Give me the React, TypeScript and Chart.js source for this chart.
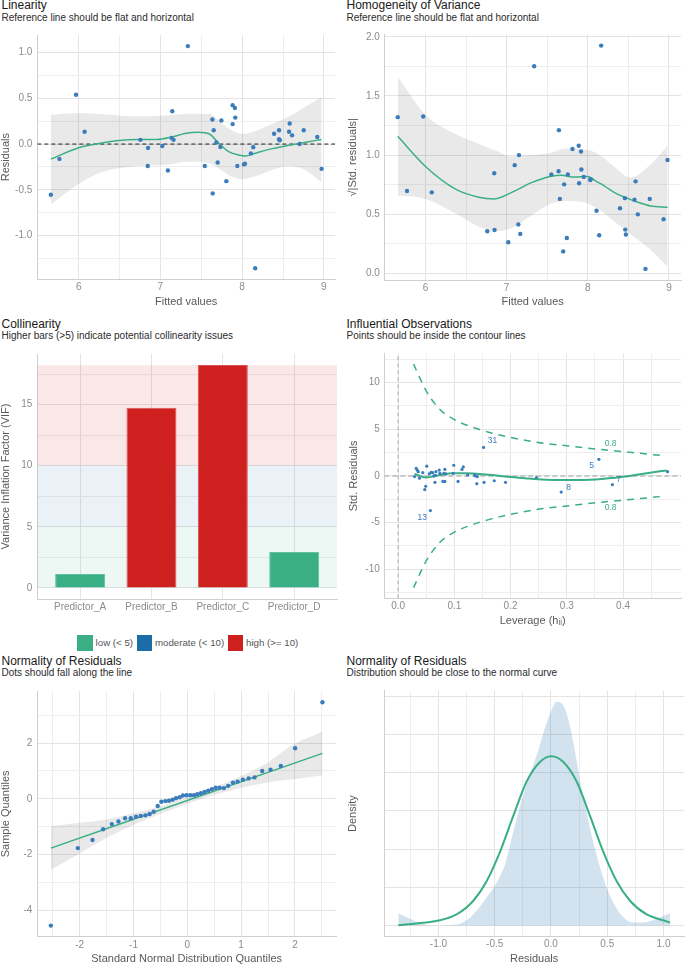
import React, { useEffect, useRef } from 'react';
import { Chart, registerables } from 'chart.js';
Chart.register(...registerables);

const FONT = "'Liberation Sans', Arial, Helvetica, sans-serif";
Chart.defaults.font.family = FONT;

// ---------------- DATA ----------------
// Linearity
const linFitted = [5.660, 5.765, 5.968, 6.073, 6.755, 6.845, 6.849, 7.023, 7.092, 7.137, 7.145, 7.161, 7.336, 7.543, 7.636, 7.640, 7.652, 7.685, 7.701, 7.734, 7.746, 7.807, 7.884, 7.884, 7.912, 7.916, 7.941, 8.022, 8.035, 8.107, 8.136, 8.160, 8.391, 8.452, 8.452, 8.460, 8.574, 8.582, 8.611, 8.704, 8.753, 8.919, 8.972];
const linResid = [-0.553, -0.162, 0.539, 0.134, 0.046, -0.239, -0.042, -0.021, -0.289, 0.067, 0.359, 0.046, 1.070, -0.239, 0.268, -0.539, 0.151, 0.018, -0.201, -0.032, 0.257, -0.405, 0.423, 0.218, 0.394, 0.289, -0.239, -0.222, -0.215, -0.102, -0.035, -1.356, 0.113, 0.151, 0.053, 0.042, 0.134, 0.225, 0.095, 0.000, 0.151, 0.077, -0.271];
const linLoessX = [5.66, 6.0, 6.22, 6.46, 6.75, 6.95, 7.15, 7.30, 7.46, 7.60, 7.72, 7.84, 7.96, 8.04, 8.16, 8.37, 8.57, 8.78, 8.97];
const linLoessY = [-0.165, -0.04, 0.0, 0.035, 0.05, 0.05, 0.08, 0.115, 0.13, 0.11, 0.0, -0.085, -0.12, -0.13, -0.10, -0.05, -0.014, 0.02, 0.05];
const linBandX = [5.66, 6.0, 6.26, 6.667, 7.073, 7.357, 7.6, 7.762, 7.884, 8.006, 8.168, 8.371, 8.574, 8.777, 8.972];
const linBandUpper = [0.32, 0.338, 0.327, 0.303, 0.313, 0.33, 0.327, 0.215, 0.144, 0.109, 0.144, 0.222, 0.30, 0.41, 0.514];
const linBandLower = [-0.66, -0.437, -0.313, -0.245, -0.225, -0.19, -0.21, -0.296, -0.36, -0.384, -0.35, -0.28, -0.243, -0.285, -0.42];
const linXRange = [5.494, 9.136];
const linYRange = [-1.477, 1.191];
const linXTicks = [6, 7, 8, 9];
const linXMinor = [5.5, 6.5, 7.5, 8.5];
const linYTicks = [-1, -0.5, 0, 0.5, 1];
const linYMinor = [-1.25, -0.75, -0.25, 0.25, 0.75];

// Homogeneity of variance
const hgFitted = [5.658, 5.772, 5.972, 6.077, 6.761, 6.851, 6.847, 7.02, 7.099, 7.144, 7.152, 7.168, 7.339, 7.551, 7.64, 7.644, 7.656, 7.697, 7.709, 7.742, 7.754, 7.811, 7.888, 7.893, 7.917, 7.921, 7.95, 8.031, 8.035, 8.108, 8.141, 8.165, 8.397, 8.458, 8.462, 8.47, 8.576, 8.589, 8.617, 8.711, 8.764, 8.934, 8.983];
const hgSqrtResid = [1.321, 0.696, 1.326, 0.685, 0.356, 0.367, 0.847, 0.263, 0.915, 0.414, 1.0, 0.334, 1.751, 0.836, 0.863, 1.211, 0.63, 0.186, 0.753, 0.299, 0.836, 1.052, 1.079, 0.762, 1.03, 0.879, 0.816, 0.789, 0.797, 0.529, 0.323, 1.926, 0.551, 0.636, 0.37, 0.329, 0.622, 0.778, 0.499, 0.038, 0.63, 0.458, 0.959];
const hgLoessX = [5.658, 6.0, 6.37, 6.655, 6.851, 7.062, 7.306, 7.551, 7.673, 7.836, 7.998, 8.1, 8.202, 8.365, 8.487, 8.609, 8.772, 8.983];
const hgLoessY = [1.159, 0.904, 0.712, 0.644, 0.630, 0.685, 0.767, 0.822, 0.83, 0.814, 0.82, 0.78, 0.74, 0.67, 0.636, 0.603, 0.57, 0.559];
const hgBandX = [5.658, 6.0, 6.37, 6.655, 6.859, 7.062, 7.306, 7.551, 7.714, 7.958, 8.12, 8.324, 8.527, 8.772, 8.983];
const hgBandUpper = [1.663, 1.342, 1.178, 1.096, 1.04, 0.99, 1.0, 1.02, 1.055, 1.047, 1.014, 0.904, 0.81, 0.92, 1.08];
const hgBandLower = [0.658, 0.63, 0.507, 0.397, 0.356, 0.384, 0.49, 0.59, 0.612, 0.60, 0.548, 0.44, 0.33, 0.2, 0.055];
const hgXRange = [5.492, 9.149];
const hgYRange = [-0.056, 2.02];
const hgXTicks = [6, 7, 8, 9];
const hgXMinor = [5.5, 6.5, 7.5, 8.5];
const hgYTicks = [0, 0.5, 1, 1.5, 2];
const hgYMinor = [0.25, 0.75, 1.25, 1.75];

// Collinearity
const vifCategories = ['Predictor_A', 'Predictor_B', 'Predictor_C', 'Predictor_D'];
const vifValues = [1.14, 14.74, 18.23, 2.94];
const vifThresholds = [5, 10];
const vifLegendLabels = ['low (< 5)', 'moderate (< 10)', 'high (>= 10)'];
const vifYRange = [-0.91, 19.14];
const vifYTicks = [0, 5, 10, 15];
const vifYMinor = [2.5, 7.5, 12.5, 17.5];

// Influential observations
const inflLeverage = [0.0293, 0.0322, 0.034, 0.0357, 0.038, 0.044, 0.0474, 0.0492, 0.051, 0.0556, 0.0574, 0.0586, 0.0615, 0.0638, 0.0656, 0.0662, 0.0673, 0.0732, 0.0744, 0.0796, 0.0814, 0.0832, 0.0832, 0.0849, 0.0978, 0.099, 0.1066, 0.1136, 0.116, 0.1236, 0.1359, 0.1376, 0.14, 0.141, 0.152, 0.1529, 0.171, 0.191, 0.246, 0.29, 0.357, 0.381, 0.479];
const inflStdResid = [-0.07, 0.80, 0.62, 0.45, -0.24, 0.35, -1.46, -1.11, 1.04, 0.21, -3.71, 0.38, 0.35, 0.0, -0.69, 0.07, 0.45, 0.62, 0.28, -0.59, 0.28, -0.59, 0.69, 0.21, 0.28, 1.14, -0.59, 0.69, 0.97, 0.10, 0.10, 0.0, -0.83, -0.07, 3.05, -0.69, -0.52, -0.69, -0.17, -1.73, 1.77, -0.94, 0.45];
const inflLoessH = [0.0293, 0.0498, 0.0615, 0.0732, 0.0966, 0.12, 0.1435, 0.1669, 0.1903, 0.2255, 0.2489, 0.3004, 0.3514, 0.40, 0.4422, 0.4773];
const inflLoessY = [0.21, -0.17, -0.07, 0.07, 0.28, 0.28, 0.21, 0.1, -0.07, -0.24, -0.35, -0.45, -0.38, -0.10, 0.28, 0.59];
const cookH = [0.0275, 0.0498, 0.0732, 0.1007, 0.1318, 0.161, 0.2, 0.249, 0.30, 0.351, 0.40, 0.4685];
const cookUpper = [11.96, 9.12, 7.18, 6.0, 5.23, 4.68, 4.12, 3.57, 3.22, 2.88, 2.6, 2.18];
const cookLower = [-11.96, -9.12, -7.18, -6.0, -5.23, -4.68, -4.12, -3.57, -3.22, -2.88, -2.6, -2.2];
const inflLabelIds = ['31', '5', '8', '7', '13'];
const inflLabelH = [0.168, 0.344, 0.303, 0.392, 0.043];
const inflLabelY = [3.74, 1.14, -1.21, -0.35, -4.5];
const contourLabel = '0.8';
const contourLabelH = [0.378, 0.378];
const contourLabelY = [3.5, -3.36];
const inflXRange = [-0.0245, 0.503];
const inflYRange = [-13.1, 13.1];
const inflXTicks = [0, 0.1, 0.2, 0.3, 0.4];
const inflXMinor = [0.05, 0.15, 0.25, 0.35, 0.45];
const inflYTicks = [-10, -5, 0, 5, 10];
const inflYMinor = [-12.5, -7.5, -2.5, 2.5, 7.5, 12.5];

// QQ plot
const qqTheoretical = [-2.535, -2.034, -1.762, -1.564, -1.403, -1.28, -1.156, -1.051, -0.952, -0.866, -0.779, -0.699, -0.624, -0.55, -0.482, -0.408, -0.34, -0.272, -0.21, -0.142, -0.08, -0.012, 0.056, 0.124, 0.185, 0.253, 0.321, 0.389, 0.457, 0.526, 0.6, 0.68, 0.76, 0.847, 0.934, 1.032, 1.138, 1.249, 1.391, 1.546, 1.737, 2.003, 2.51];
const qqSample = [-4.557, -1.772, -1.48, -1.096, -0.909, -0.816, -0.699, -0.699, -0.641, -0.618, -0.594, -0.548, -0.466, -0.256, -0.105, -0.082, -0.07, -0.035, 0.023, 0.058, 0.117, 0.128, 0.128, 0.128, 0.163, 0.198, 0.245, 0.291, 0.35, 0.396, 0.396, 0.385, 0.466, 0.583, 0.618, 0.688, 0.734, 0.769, 1.002, 1.049, 1.177, 1.818, 3.473];
const qqLineX = [-2.535, 2.51];
const qqLineY = [-1.772, 1.632];
const qqBandX = [-2.535, -2.016, -1.62, -1.0, -0.507, -0.012, 0.482, 0.977, 1.471, 1.966, 2.51];
const qqBandUpper = [-0.99, -0.86, -0.78, -0.52, -0.27, 0.05, 0.41, 0.80, 1.28, 1.95, 2.41];
const qqBandLower = [-2.55, -1.98, -1.53, -0.94, -0.55, -0.19, 0.13, 0.38, 0.58, 0.70, 0.85];
const qqXRange = [-2.787, 2.762];
const qqYRange = [-4.959, 3.875];
const qqXTicks = [-2, -1, 0, 1, 2];
const qqXMinor = [-2.5, -1.5, -0.5, 0.5, 1.5, 2.5];
const qqYTicks = [-4, -2, 0, 2];
const qqYMinor = [-3, -1, 1, 3];

// Density
const densX = [-1.357, -1.253, -1.150, -1.016, -0.839, -0.750, -0.661, -0.572, -0.483, -0.409, -0.350, -0.290, -0.231, -0.172, -0.113, -0.053, 0.006, 0.050, 0.095, 0.139, 0.184, 0.228, 0.273, 0.317, 0.361, 0.421, 0.495, 0.569, 0.643, 0.732, 0.821, 0.939, 1.058];
const densY = [0.325, 0.18, 0.05, 0, 0.026, 0.137, 0.39, 0.735, 1.12, 1.59, 2.27, 2.96, 3.56, 4.07, 4.58, 5.18, 5.65, 5.86, 5.82, 5.56, 5.01, 4.32, 3.56, 2.96, 2.36, 1.68, 0.99, 0.52, 0.22, 0.077, 0.077, 0.18, 0.325];
const normX = [-1.357, -0.987, -0.839, -0.690, -0.572, -0.453, -0.335, -0.216, -0.098, 0.003, 0.110, 0.228, 0.347, 0.465, 0.584, 0.702, 0.850, 0.999, 1.058];
const normY = [0.01, 0.137, 0.29, 0.65, 1.16, 1.93, 2.87, 3.77, 4.28, 4.43, 4.28, 3.77, 2.87, 1.93, 1.16, 0.65, 0.29, 0.137, 0.077];
const densXRange = [-1.481, 1.182];
const densYRange = [-0.292, 6.154];
const densXTicks = [-1, -0.5, 0, 0.5, 1];
const densXMinor = [-1.25, -0.75, -0.25, 0.25, 0.75];
const densYTicks = [0, 1, 2, 3, 4, 5, 6];

// ---------------- STYLE ----------------
const POINT = '#3b7dbb';
const GREEN = '#3aaf85';
const BLUE = '#1b6ca8';
const RED = '#cd201f';
const BAND = 'rgba(0,0,0,0.085)';
const GRID_MAJOR = '#e4e4e4';
const GRID_MINOR = '#eeeeee';
const AXIS_LINE = '#cfcfcf';
const TICK_COLOR = '#8c8c8c';
const AXIS_TITLE = '#595959';

const pts = (xs: number[], ys: number[]) => xs.map((x, i) => ({ x, y: ys[i] }));

type Geom = { left: number; top: number; width: number; height: number; plotL: number; plotT: number; plotR: number; plotB: number };

function axis(o: {
  pos: 'x' | 'y'; range: number[]; major: number[]; minor?: number[]; fmt: (v: number) => string;
  size: number; tickPad: number; title?: string; titlePad?: number; hideLabels?: boolean;
}) {
  const minor = o.minor || [];
  const all = [...o.major, ...minor].sort((a, b) => a - b);
  const tp = o.titlePad ?? 0;
  return {
    type: 'linear',
    position: o.pos === 'x' ? 'bottom' : 'left',
    min: o.range[0],
    max: o.range[1],
    offset: false,
    afterBuildTicks: (s: any) => { s.ticks = all.map((v) => ({ value: v })); },
    afterFit: (s: any) => { if (o.pos === 'x') s.height = o.size; else s.width = o.size; },
    ticks: {
      autoSkip: false, maxRotation: 0, minRotation: 0, padding: o.tickPad, color: TICK_COLOR,
      font: { family: FONT, size: 10 },
      callback: (v: number) => (!o.hideLabels && o.major.includes(v) ? o.fmt(v) : ''),
    },
    grid: {
      drawTicks: false, offset: false,
      color: (c: any) => (o.major.includes(c.tick?.value) ? GRID_MAJOR : GRID_MINOR),
      lineWidth: 1,
    },
    border: { display: true, color: AXIS_LINE, width: 1 },
    title: o.title
      ? { display: true, text: o.title, color: AXIS_TITLE, font: { family: FONT, size: 11, lineHeight: 1 }, padding: { top: tp, bottom: tp } }
      : { display: false },
  };
}

function baseOptions(g: Geom, scales: any, extra: any = {}) {
  return {
    responsive: false,
    maintainAspectRatio: false,
    animation: false,
    events: [],
    layout: { padding: { top: g.plotT - g.top, right: g.left + g.width - g.plotR, left: 0, bottom: 0 } },
    plugins: { legend: { display: false }, tooltip: { enabled: false }, title: { display: false } },
    scales,
    ...extra,
  };
}

const lineDs = (data: any[], color: string, width: number, extra: any = {}) => ({
  data, borderColor: color, borderWidth: width, pointRadius: 0, showLine: true, fill: false,
  cubicInterpolationMode: 'monotone', ...extra,
});
const pointDs = (data: any[], r: number, extra: any = {}) => ({
  data, showLine: false, pointRadius: r, pointBackgroundColor: POINT, pointBorderWidth: 0, borderColor: POINT, ...extra,
});
const bandDs = (x: number[], up: number[], lo: number[], order: number) => [
  lineDs(pts(x, up), 'rgba(0,0,0,0)', 0, { fill: '+1', backgroundColor: BAND, order }),
  lineDs(pts(x, lo), 'rgba(0,0,0,0)', 0, { order }),
];

const fmt1 = (v: number) => v.toFixed(1);
const fmt0 = (v: number) => String(v);

// ---------------- GEOMETRY ----------------
const G1: Geom = { left: 0, top: 24, width: 340, height: 284, plotL: 37.3, plotT: 28.3, plotR: 335, plotB: 279.3 };
const G2: Geom = { left: 340, top: 24, width: 345, height: 284, plotL: 384.3, plotT: 27.6, plotR: 684.2, plotB: 280 };
const G3: Geom = { left: 0, top: 343, width: 340, height: 272, plotL: 37.3, plotT: 346.7, plotR: 337, plotB: 599 };
const G4: Geom = { left: 340, top: 343, width: 345, height: 285, plotL: 384.3, plotT: 346.7, plotR: 684.5, plotB: 598.3 };
const G5: Geom = { left: 0, top: 680, width: 340, height: 285, plotL: 37.3, plotT: 684.2, plotR: 336.2, plotB: 936.8 };
const G6: Geom = { left: 340, top: 680, width: 345, height: 285, plotL: 384.3, plotT: 685.3, plotR: 684, plotB: 936.7 };

const xh = (g: Geom) => g.top + g.height - g.plotB;
const yw = (g: Geom) => g.plotL - g.left;

// ---------------- CONFIGS ----------------
function cfgLinearity() {
  return {
    type: 'line',
    data: {
      datasets: [
        pointDs(pts(linFitted, linResid), 2.2, { order: 0 }),
        lineDs(pts(linLoessX, linLoessY), GREEN, 1.5, { order: 1 }),
        lineDs(pts(linXRange, [0, 0]), '#222222', 1, { borderDash: [4, 3], cubicInterpolationMode: 'default', order: 2 }),
        ...bandDs(linBandX, linBandUpper, linBandLower, 3),
      ],
    },
    options: baseOptions(G1, {
      x: axis({ pos: 'x', range: linXRange, major: linXTicks, minor: linXMinor, fmt: fmt0, size: xh(G1), tickPad: 2, title: 'Fitted values', titlePad: 0.5 }),
      y: axis({ pos: 'y', range: linYRange, major: linYTicks, minor: linYMinor, fmt: fmt1, size: yw(G1), tickPad: 5, title: 'Residuals', titlePad: 0 }),
    }),
  };
}

function cfgHomogeneity() {
  return {
    type: 'line',
    data: {
      datasets: [
        pointDs(pts(hgFitted, hgSqrtResid), 2.2, { order: 0 }),
        lineDs(pts(hgLoessX, hgLoessY), GREEN, 1.5, { order: 1 }),
        ...bandDs(hgBandX, hgBandUpper, hgBandLower, 3),
      ],
    },
    options: baseOptions(G2, {
      x: axis({ pos: 'x', range: hgXRange, major: hgXTicks, minor: hgXMinor, fmt: fmt0, size: xh(G2), tickPad: 2, title: 'Fitted values', titlePad: 0.5 }),
      y: axis({ pos: 'y', range: hgYRange, major: hgYTicks, minor: hgYMinor, fmt: fmt1, size: yw(G2), tickPad: 4.5, title: '√|Std. residuals|', titlePad: 7 }),
    }),
  };
}

const vifColor = (v: number) => (v < vifThresholds[0] ? GREEN : v < vifThresholds[1] ? BLUE : RED);
const vifBandPlugin = {
  id: 'vifBands',
  beforeDatasetsDraw(chart: any) {
    const { ctx, chartArea, scales } = chart;
    const y = scales.y;
    const bounds = [0, ...vifThresholds, Math.max(...vifValues)];
    const fills = ['rgba(58,175,133,0.09)', 'rgba(27,108,168,0.09)', 'rgba(205,32,31,0.1)'];
    ctx.save();
    for (let i = 0; i < bounds.length - 1; i++) {
      const top = y.getPixelForValue(bounds[i + 1]);
      const bot = y.getPixelForValue(bounds[i]);
      ctx.fillStyle = fills[i];
      ctx.fillRect(chartArea.left, top, chartArea.right - chartArea.left, bot - top);
    }
    ctx.restore();
  },
};

function cfgCollinearity() {
  const xs = vifCategories.map((_, i) => i);
  const xAxis: any = axis({ pos: 'x', range: [-0.6, xs.length - 0.4], major: xs, fmt: (v) => vifCategories[v], size: xh(G3), tickPad: 2.7 });
  return {
    type: 'bar',
    data: {
      datasets: [{
        data: pts(xs, vifValues),
        backgroundColor: vifValues.map(vifColor),
        borderColor: vifValues.map((v) => (vifColor(v) === GREEN ? '#62c29f' : vifColor(v) === RED ? '#d9504f' : '#4a8bbd')),
        borderWidth: 1,
        categoryPercentage: 1,
        barPercentage: 0.7,
      }],
    },
    options: baseOptions(G3, {
      x: xAxis,
      y: axis({ pos: 'y', range: vifYRange, major: vifYTicks, minor: vifYMinor, fmt: fmt0, size: yw(G3), tickPad: 5, title: 'Variance Inflation Factor (VIF)', titlePad: 0 }),
    }),
    plugins: [vifBandPlugin],
  };
}

const inflLabelPlugin = {
  id: 'inflLabels',
  afterDatasetsDraw(chart: any) {
    const { ctx, scales } = chart;
    const { x, y } = scales;
    ctx.save();
    ctx.font = `8.5px ${FONT}`;
    ctx.textAlign = 'center';
    ctx.textBaseline = 'middle';
    ctx.fillStyle = POINT;
    inflLabelIds.forEach((t, i) => ctx.fillText(t, x.getPixelForValue(inflLabelH[i]), y.getPixelForValue(inflLabelY[i])));
    ctx.fillStyle = GREEN;
    contourLabelH.forEach((h, i) => ctx.fillText(contourLabel, x.getPixelForValue(h), y.getPixelForValue(contourLabelY[i])));
    ctx.restore();
  },
};

function cfgInfluential() {
  return {
    type: 'line',
    data: {
      datasets: [
        pointDs(pts(inflLeverage, inflStdResid), 1.6, { order: 0 }),
        lineDs(pts(inflLoessH, inflLoessY), GREEN, 2, { order: 1 }),
        lineDs(pts(cookH, cookUpper), GREEN, 1.5, { borderDash: [7, 6], order: 2 }),
        lineDs(pts(cookH, cookLower), GREEN, 1.5, { borderDash: [7, 6], order: 2 }),
        lineDs(pts(inflXRange, [0, 0]), '#c9c9c9', 2, { borderDash: [5, 3], cubicInterpolationMode: 'default', order: 3 }),
        lineDs(pts([0, 0], inflYRange), '#adadad', 1, { borderDash: [4, 3], cubicInterpolationMode: 'default', order: 3 }),
      ],
    },
    options: baseOptions(G4, {
      x: axis({ pos: 'x', range: inflXRange, major: inflXTicks, minor: inflXMinor, fmt: fmt1, size: xh(G4), tickPad: 2, title: 'Leverage (hᵢᵢ)', titlePad: 1.5 }),
      y: axis({ pos: 'y', range: inflYRange, major: inflYTicks, minor: inflYMinor, fmt: fmt0, size: yw(G4), tickPad: 4.5, title: 'Std. Residuals', titlePad: 8 }),
    }),
    plugins: [inflLabelPlugin],
  };
}

function cfgQQ() {
  return {
    type: 'line',
    data: {
      datasets: [
        pointDs(pts(qqTheoretical, qqSample), 2.2, { order: 0 }),
        lineDs(pts(qqLineX, qqLineY), GREEN, 1.5, { order: 1 }),
        ...bandDs(qqBandX, qqBandUpper, qqBandLower, 3),
      ],
    },
    options: baseOptions(G5, {
      x: axis({ pos: 'x', range: qqXRange, major: qqXTicks, minor: qqXMinor, fmt: fmt0, size: xh(G5), tickPad: 2, title: 'Standard Normal Distribution Quantiles', titlePad: 0.2 }),
      y: axis({ pos: 'y', range: qqYRange, major: qqYTicks, minor: qqYMinor, fmt: fmt0, size: yw(G5), tickPad: 5, title: 'Sample Quantiles', titlePad: 0 }),
    }),
  };
}

function cfgDensity() {
  return {
    type: 'line',
    data: {
      datasets: [
        lineDs(pts(normX, normY), GREEN, 2, { order: 0 }),
        lineDs(pts(densX, densY), 'rgba(0,0,0,0)', 0, { fill: 'origin', backgroundColor: 'rgba(30,110,170,0.2)', order: 1 }),
      ],
    },
    options: baseOptions(G6, {
      x: axis({ pos: 'x', range: densXRange, major: densXTicks, minor: densXMinor, fmt: fmt1, size: xh(G6), tickPad: 2, title: 'Residuals', titlePad: 0.2 }),
      y: axis({ pos: 'y', range: densYRange, major: densYTicks, fmt: fmt0, size: yw(G6), tickPad: 4.5, title: 'Density', titlePad: 7, hideLabels: true }),
    }),
  };
}

// ---------------- COMPONENTS ----------------
function ChartCanvas({ g, make }: { g: Geom; make: () => any }) {
  const ref = useRef<HTMLCanvasElement>(null);
  useEffect(() => {
    const chart = new Chart(ref.current as HTMLCanvasElement, make());
    return () => chart.destroy();
  }, []);
  return (
    <canvas
      ref={ref}
      width={g.width}
      height={g.height}
      style={{ position: 'absolute', left: g.left, top: g.top, width: g.width, height: g.height }}
    />
  );
}

function Heading({ left, top, title, subtitle }: { left: number; top: number; title: string; subtitle: string }) {
  return (
    <>
      <div style={{ position: 'absolute', left, top, font: `12px/14px ${FONT}`, color: '#1a1a1a', whiteSpace: 'nowrap' }}>{title}</div>
      <div style={{ position: 'absolute', left, top: top + 13.4, font: `10px/12px ${FONT}`, color: '#2b2b2b', whiteSpace: 'nowrap' }}>{subtitle}</div>
    </>
  );
}

function VifLegend() {
  const colors = [GREEN, BLUE, RED];
  const boxLeft = [77.3, 136.7, 227.7];
  return (
    <>
      {vifLegendLabels.map((lab, i) => (
        <React.Fragment key={lab}>
          <div style={{ position: 'absolute', left: boxLeft[i], top: 635, width: 15.7, height: 15.7, background: colors[i] }} />
          <div style={{ position: 'absolute', left: boxLeft[i] + 18.3, top: 636.8, font: `9.7px/12px ${FONT}`, color: '#555555', whiteSpace: 'nowrap' }}>{lab}</div>
        </React.Fragment>
      ))}
    </>
  );
}

export default function App() {
  return (
    <div style={{ position: 'fixed', left: 0, top: 0, width: 685, height: 965, background: '#ffffff', overflow: 'hidden' }}>
      <Heading left={1.5} top={-1.7} title="Linearity" subtitle="Reference line should be flat and horizontal" />
      <Heading left={346.5} top={-1.7} title="Homogeneity of Variance" subtitle="Reference line should be flat and horizontal" />
      <Heading left={1.5} top={316.5} title="Collinearity" subtitle="Higher bars (>5) indicate potential collinearity issues" />
      <Heading left={346.5} top={316.5} title="Influential Observations" subtitle="Points should be inside the contour lines" />
      <Heading left={1.5} top={653.8} title="Normality of Residuals" subtitle="Dots should fall along the line" />
      <Heading left={346.5} top={653.8} title="Normality of Residuals" subtitle="Distribution should be close to the normal curve" />
      <ChartCanvas g={G1} make={cfgLinearity} />
      <ChartCanvas g={G2} make={cfgHomogeneity} />
      <ChartCanvas g={G3} make={cfgCollinearity} />
      <ChartCanvas g={G4} make={cfgInfluential} />
      <ChartCanvas g={G5} make={cfgQQ} />
      <ChartCanvas g={G6} make={cfgDensity} />
      <VifLegend />
    </div>
  );
}
